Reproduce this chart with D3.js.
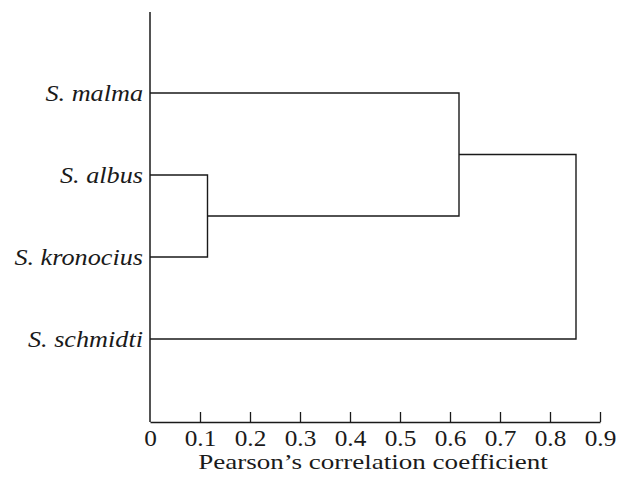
<!DOCTYPE html>
<html><head><meta charset="utf-8">
<script src="https://cdn.jsdelivr.net/npm/d3@7"></script>
<style>body{margin:0;background:#fff}</style>
</head><body>
<svg id="c" width="625" height="478"></svg>
<script>
const species = ["S. malma", "S. albus", "S. kronocius", "S. schmidti"];
// cluster merges: [left, right, height]; indices >= species.length refer to earlier merges
const mergeLeft = [1, 0, 5];
const mergeRight = [2, 4, 3];
const mergeHeight = [0.115, 0.618, 0.852];
const xTicks = [0, 0.1, 0.2, 0.3, 0.4, 0.5, 0.6, 0.7, 0.8, 0.9];
const xTitle = "Pearson\u2019s correlation coefficient";

const svg = d3.select("#c");
const ink = "#1a1a1a";
const font = "'Liberation Serif','Times New Roman',serif";

const x = d3.scaleLinear().domain([0, 0.9]).range([150, 600]);
const y = d3.scalePoint().domain(species).range([11, 421]).padding(1);
const axisY = 422;

// node positions
const nodes = species.map(s => ({x: 0, y: y(s)}));
mergeHeight.forEach((h, i) => {
  const a = nodes[mergeLeft[i]], b = nodes[mergeRight[i]];
  nodes.push({x: h, y: (a.y + b.y) / 2});
  svg.append("path")
    .attr("fill", "none").attr("stroke", ink).attr("stroke-width", 1.4)
    .attr("d", `M${x(a.x)},${a.y}H${x(h)}V${b.y}H${x(b.x)}`);
});

// axes
svg.append("line").attr("x1", x(0)).attr("x2", x(0)).attr("y1", 12).attr("y2", axisY)
  .attr("stroke", ink).attr("stroke-width", 1.5);
const ax = d3.axisBottom(x).tickValues(xTicks).tickSize(0).tickPadding(0)
  .tickFormat(d => d === 0 ? "0" : d3.format(".1f")(d));
const axg = svg.append("g").attr("transform", `translate(0,${axisY})`).call(ax);
axg.select(".domain").attr("stroke", ink).attr("stroke-width", 1.5);
axg.selectAll(".tick line").remove();
axg.selectAll(".tick").filter(d => d !== 0).append("line")
  .attr("y1", 0).attr("y2", -10).attr("stroke", ink).attr("stroke-width", 1.3);
axg.selectAll(".tick text").attr("y", 24).attr("dy", 0)
  .attr("font-family", font).attr("font-size", 23).attr("fill", ink)
  .attr("transform", `scale(1.1,1)`);

svg.append("text").attr("transform", `translate(373,469) scale(1.23,1)`)
  .attr("text-anchor", "middle").attr("font-family", font).attr("font-size", 22)
  .attr("fill", ink).text(xTitle);

// leaf labels
svg.selectAll(".lab").data(species).join("text").attr("class", "lab")
  .attr("transform", d => `translate(143,${y(d) + 8}) scale(1.14,1)`)
  .attr("text-anchor", "end").attr("font-family", font).attr("font-style", "italic")
  .attr("font-size", 23).attr("fill", ink).text(d => d);
</script>
</body></html>
